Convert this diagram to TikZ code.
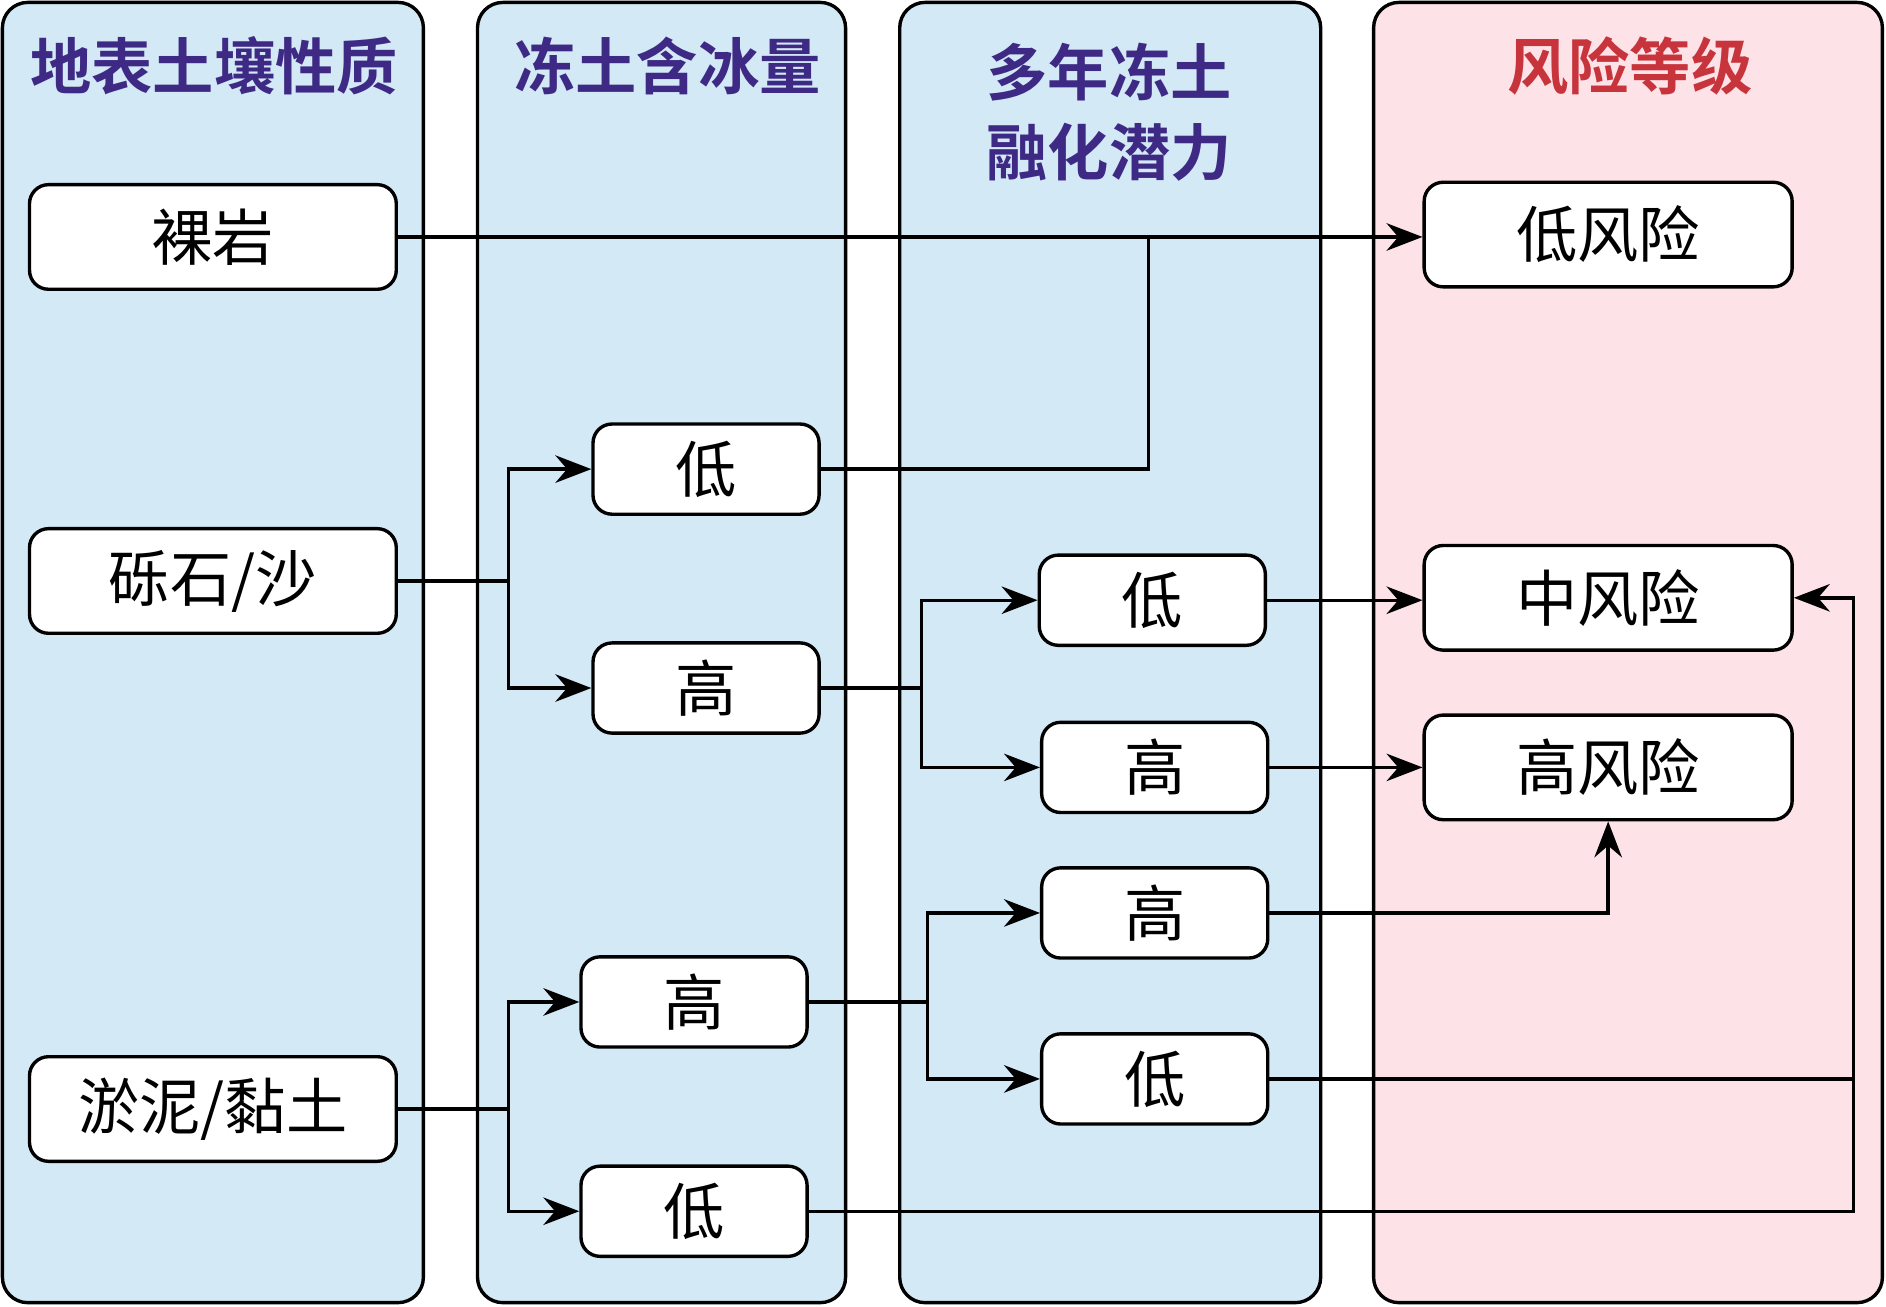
\documentclass[tikz,border=0pt]{standalone}
\usepackage{fontspec}
\setmainfont{Noto Sans CJK SC}
\newfontfamily\cjkbold{Noto Sans CJK SC Bold}
\usetikzlibrary{arrows.meta}
\definecolor{laneblue}{HTML}{D3E9F6}
\definecolor{lanepink}{HTML}{FDE3E8}
\definecolor{titlepurple}{HTML}{3E2A85}
\definecolor{titlered}{HTML}{C8343C}
\tikzset{%
  lane/.style  = {draw=black, line width=1.6pt, rounded corners=12pt},
  title/.style = {font=\cjkbold\fontsize{29}{38}\selectfont, align=center},
  box/.style   = {draw=black, line width=1.6pt, fill=white, rectangle, rounded corners=9pt,
    font=\fontsize{29}{32}\selectfont},
  link/.style  = {line width=1.6pt, -{Stealth[length=17pt,width=13pt]}},
  plain/.style = {line width=1.6pt}
}
\begin{document}
\begin{tikzpicture}[x=0.02cm, y=-0.02cm]
    \useasboundingbox (0,0) rectangle (1568,1086);

    %lanes
    \draw[lane, fill=laneblue](2, 2) rectangle (352, 1083);
    \draw[lane, fill=laneblue](397, 2) rectangle (703, 1083);
    \draw[lane, fill=laneblue](748, 2) rectangle (1098, 1083);
    \draw[lane, fill=lanepink](1142, 2) rectangle (1565, 1083);
    \node[title, text=titlepurple] (t1) at (178, 55) {地表土壤性质};
    \node[title, text=titlepurple] (t2) at (555, 55) {冻土含冰量};
    \node[title, text=titlepurple] (t3) at (922, 93) {多年冻土\\融化潜力};
    \node[title, text=titlered] (t4) at (1355, 55) {风险等级};

    %soil
    \node[box, minimum width=6.1cm, minimum height=1.74cm] (rock) at (177, 197) {裸岩};
    \node[box, minimum width=6.1cm, minimum height=1.74cm] (sand) at (177, 483) {砾石/沙};
    \node[box, minimum width=6.1cm, minimum height=1.74cm] (clay) at (177, 922) {淤泥/黏土};

    %ice content
    \node[box, minimum width=3.76cm, minimum height=1.5cm] (iceA) at (587, 390) {低};
    \node[box, minimum width=3.76cm, minimum height=1.5cm] (iceB) at (587, 572) {高};
    \node[box, minimum width=3.76cm, minimum height=1.5cm] (iceC) at (577, 833) {高};
    \node[box, minimum width=3.76cm, minimum height=1.5cm] (iceD) at (577, 1007) {低};

    %thaw potential
    \node[box, minimum width=3.76cm, minimum height=1.5cm] (thawA) at (958, 499) {低};
    \node[box, minimum width=3.76cm, minimum height=1.5cm] (thawB) at (960, 638) {高};
    \node[box, minimum width=3.76cm, minimum height=1.5cm] (thawC) at (960, 759) {高};
    \node[box, minimum width=3.76cm, minimum height=1.5cm] (thawD) at (960, 897) {低};

    %risk
    \node[box, minimum width=6.12cm, minimum height=1.74cm] (riskL) at (1337, 195) {低风险};
    \node[box, minimum width=6.12cm, minimum height=1.74cm] (riskM) at (1337, 497) {中风险};
    \node[box, minimum width=6.12cm, minimum height=1.74cm] (riskH) at (1337, 638) {高风险};

    %links
    \coordinate (joinL) at (955, 197);
    \coordinate (sandX) at (423, 483);
    \coordinate (clayX) at (423, 922);
    \coordinate (iceBX) at (766, 572);
    \coordinate (iceCX) at (771, 833);
    \coordinate (rightD) at (1541, 897);

    \draw[link](rock.east) -- (rock.east -| riskL.west);
    \draw[plain](iceA.east) -| (joinL);
    \draw[plain](sand.east) -- (sandX);
    \draw[link](sandX) |- (iceA.west);
    \draw[link](sandX) |- (iceB.west);
    \draw[plain](iceB.east) -- (iceBX);
    \draw[link](iceBX) |- (thawA.west);
    \draw[link](iceBX) |- (thawB.west);
    \draw[link](thawA.east) -- (thawA.east -| riskM.west);
    \draw[link](thawB.east) -- (riskH.west);
    \draw[plain](clay.east) -- (clayX);
    \draw[link](clayX) |- (iceC.west);
    \draw[link](clayX) |- (iceD.west);
    \draw[plain](iceC.east) -- (iceCX);
    \draw[link](iceCX) |- (thawC.west);
    \draw[link](iceCX) |- (thawD.west);
    \draw[link](thawC.east) -| (riskH.south);
    \draw[plain](thawD.east) -- (rightD);
    \draw[plain](iceD.east) -| (rightD);
    \draw[link](rightD) |- (riskM.east);
\end{tikzpicture}
\end{document}
